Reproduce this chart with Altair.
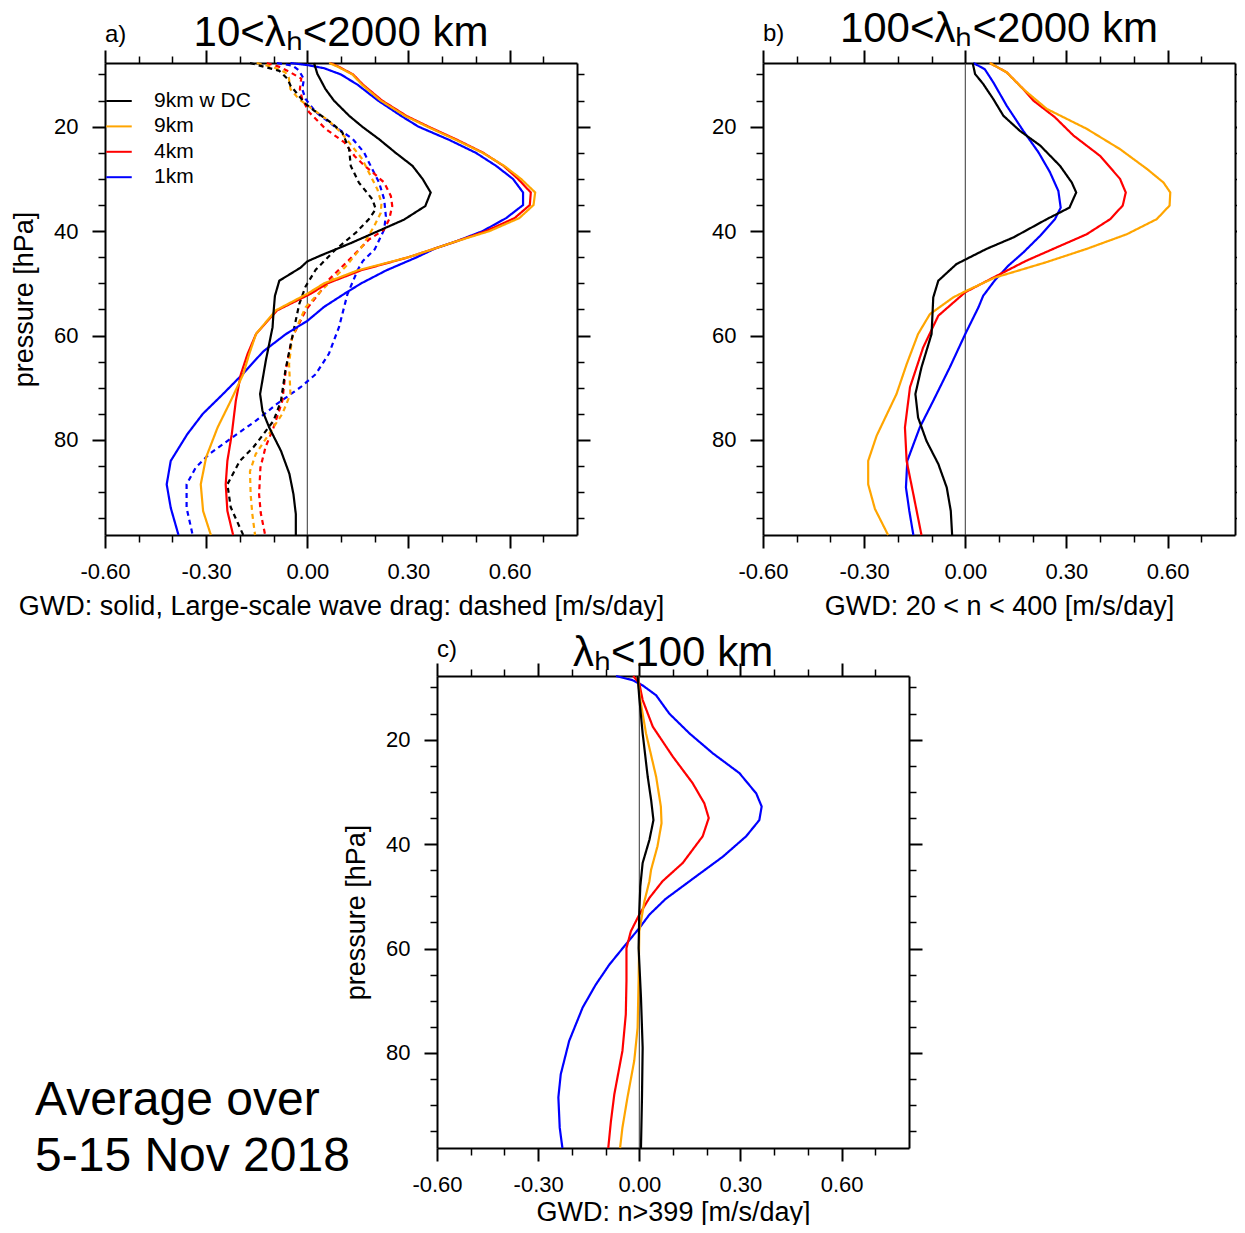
import altair as alt
import pandas as pd

FONT = "Liberation Sans"
NAMES = ["9km w DC", "9km", "4km", "1km"]
COLORS = ["#000000", "#FFA500", "#FF0000", "#0000FF"]

X_MAJOR = [-0.6, -0.3, 0.0, 0.3, 0.6]
X_MINOR = [-0.5, -0.4, -0.2, -0.1, 0.1, 0.2, 0.4, 0.5, 0.7]
Y_MAJOR = [20, 40, 60, 80]
Y_MINOR = [10, 15, 25, 30, 35, 45, 50, 55, 65, 70, 75, 85, 90, 95]
X_DOMAIN = [-0.6, 0.8]
Y_DOMAIN = [7.8, 98.2]
ZERO = [0.0]

# ---------------- panel a : GWD (solid) ----------------
a_dc_p = [7.8, 9.9, 12.8, 15.0, 17.9, 20.0, 22.4, 25.0, 27.5, 30.0, 32.6, 35.2, 37.8, 40.0, 42.3, 44.8, 45.8, 47.0, 49.5, 52.4, 55.5, 58.4, 64.8, 71.2, 74.4, 77.6, 82.1, 86.5, 90.4, 94.2, 98.2]
a_dc_v = [0.02, 0.03, 0.054, 0.079, 0.124, 0.163, 0.213, 0.262, 0.312, 0.342, 0.366, 0.35, 0.287, 0.21, 0.129, 0.035, 0.0, -0.02, -0.083, -0.096, -0.10, -0.103, -0.123, -0.14, -0.133, -0.113, -0.078, -0.053, -0.041, -0.034, -0.034]

a_9_p = [7.8, 8.5, 10, 12, 15, 18, 20, 22.5, 25, 27.5, 30, 32.6, 35, 37.5, 40, 42, 43.3, 45, 47.5, 50, 52, 55.2, 59.7, 63.5, 67.4, 72.5, 77.6, 83.3, 88.5, 93.6, 98.2]
a_9_v = [0.065, 0.09, 0.134, 0.163, 0.218, 0.292, 0.356, 0.44, 0.52, 0.584, 0.634, 0.676, 0.671, 0.629, 0.54, 0.44, 0.38, 0.30, 0.15, 0.05, 0.0, -0.094, -0.152, -0.172, -0.19, -0.227, -0.266, -0.30, -0.316, -0.309, -0.286]

a_4_p = [7.8, 8.5, 10, 12, 15, 18, 20, 22.5, 25, 27.5, 30, 32.6, 35, 37.5, 40, 42, 43.3, 45, 47.5, 50, 52, 55.2, 59.7, 63.5, 67.4, 72.5, 78.9, 84, 88.5, 93.6, 98.2]
a_4_v = [0.068, 0.093, 0.136, 0.166, 0.222, 0.296, 0.36, 0.444, 0.522, 0.582, 0.625, 0.663, 0.66, 0.615, 0.53, 0.44, 0.38, 0.30, 0.16, 0.06, 0.01, -0.09, -0.152, -0.177, -0.197, -0.212, -0.224, -0.237, -0.242, -0.237, -0.22]

a_1_p = [7.8, 8.2, 8.8, 10, 12, 15, 18, 20, 22.5, 25, 27.5, 30, 32.6, 35, 37.5, 40, 42, 43.3, 45, 47.5, 50, 52, 54.5, 57.2, 59.7, 63, 67.4, 71.2, 75, 78.9, 84, 88.5, 93, 98.2]
a_1_v = [-0.05, 0.0, 0.05, 0.10, 0.15, 0.21, 0.28, 0.33, 0.42, 0.50, 0.56, 0.61, 0.64, 0.64, 0.59, 0.52, 0.44, 0.38, 0.325, 0.235, 0.16, 0.11, 0.05, 0.0, -0.063, -0.13, -0.192, -0.25, -0.31, -0.356, -0.405, -0.417, -0.405, -0.382]

# ---------------- panel a : large-scale wave drag (dashed) ----------------
a_dc_ls_p = [7.8, 9.3, 10.9, 12.1, 14.0, 15.7, 16.9, 19.2, 21.1, 24.3, 27.5, 30.7, 33.9, 35.8, 37.7, 40.3, 43.5, 47.4, 50.6, 54.0, 60.4, 66.7, 72.5, 76.3, 78.9, 81.4, 84.0, 88.5, 92.9, 98.2]
a_dc_ls_v = [-0.17, -0.083, -0.058, -0.05, -0.026, -0.004, 0.02, 0.07, 0.104, 0.124, 0.129, 0.153, 0.193, 0.203, 0.183, 0.144, 0.084, 0.025, -0.005, -0.024, -0.045, -0.065, -0.078, -0.1, -0.13, -0.16, -0.2, -0.237, -0.227, -0.19]

a_9_ls_p = [7.8, 8.6, 9.6, 10.5, 12.8, 14.7, 16.6, 18.9, 21.1, 23.0, 26.2, 28.8, 32.0, 34.6, 36.5, 39.1, 42.9, 46.8, 50.6, 52.5, 54.6, 60.4, 65.5, 71.2, 75.0, 78.9, 82.7, 86.0, 90.4, 94.2, 98.2]
a_9_ls_v = [-0.15, -0.1, -0.065, -0.055, -0.05, -0.025, 0.015, 0.064, 0.1, 0.124, 0.163, 0.183, 0.208, 0.22, 0.218, 0.198, 0.163, 0.114, 0.054, 0.025, -0.005, -0.045, -0.054, -0.05, -0.074, -0.114, -0.153, -0.17, -0.168, -0.163, -0.155]

a_4_ls_p = [7.8, 8.6, 9.6, 10.8, 12.8, 14.7, 17.2, 20.4, 23.0, 25.6, 27.5, 28.8, 30.7, 33.3, 35.2, 37.7, 39.7, 41.6, 45.5, 49.3, 51.5, 55.2, 60.4, 66.7, 72.5, 77.6, 81.4, 85.3, 90.4, 94.0, 98.2]
a_4_ls_v = [-0.12, -0.08, -0.05, -0.018, -0.022, -0.015, 0.005, 0.054, 0.11, 0.14, 0.17, 0.195, 0.228, 0.248, 0.252, 0.243, 0.228, 0.183, 0.124, 0.064, 0.04, -0.005, -0.045, -0.064, -0.074, -0.1, -0.124, -0.139, -0.143, -0.138, -0.125]

a_1_ls_p = [7.8, 8.3, 9.2, 10.9, 12.8, 14.7, 17.2, 20.1, 22.3, 24.9, 27.5, 30.7, 33.9, 37.1, 39.7, 43.5, 45.7, 47.4, 52.1, 58.4, 63.5, 67.4, 69.9, 73.1, 76.3, 79.5, 82.7, 85.3, 88.5, 93.0, 98.2]
a_1_ls_v = [-0.09, -0.044, -0.025, -0.01, -0.015, -0.005, 0.025, 0.084, 0.134, 0.168, 0.188, 0.213, 0.228, 0.233, 0.228, 0.2, 0.165, 0.15, 0.119, 0.094, 0.064, 0.025, -0.02, -0.09, -0.152, -0.222, -0.291, -0.331, -0.358, -0.358, -0.34]

# ---------------- panel b : GWD 20 < n < 400 ----------------
b_dc_p = [7.8, 9.9, 11.8, 14.7, 17.9, 20.8, 23.6, 27.5, 30.7, 32.6, 35.5, 37.7, 41.2, 43.4, 46.3, 49.5, 52.7, 59.7, 66.1, 71.2, 75.7, 80.2, 84.6, 89.1, 93.6, 98.2]
b_dc_v = [0.022, 0.029, 0.053, 0.083, 0.113, 0.162, 0.222, 0.281, 0.316, 0.329, 0.309, 0.242, 0.143, 0.063, -0.026, -0.08, -0.095, -0.1, -0.13, -0.148, -0.14, -0.115, -0.08, -0.055, -0.043, -0.039]

b_9_p = [7.8, 9.6, 12.8, 16.6, 20.4, 24.3, 28.1, 30.7, 32.6, 35.1, 37.7, 40.6, 43.4, 46.0, 48.9, 51.4, 52.7, 55.9, 59.7, 65.5, 71.2, 79.2, 84.0, 88.5, 93.2, 98.2]
b_9_v = [0.073, 0.123, 0.172, 0.242, 0.36, 0.459, 0.539, 0.588, 0.608, 0.606, 0.568, 0.479, 0.36, 0.238, 0.088, 0.004, -0.036, -0.105, -0.14, -0.174, -0.204, -0.263, -0.288, -0.288, -0.268, -0.229]

b_4_p = [7.8, 9.6, 12.8, 15.0, 18.2, 21.7, 25.6, 30.0, 32.6, 35.1, 37.7, 40.6, 43.4, 45.7, 48.9, 51.7, 56.2, 62.3, 69.9, 77.6, 84.0, 90.4, 98.2]
b_4_v = [0.073, 0.123, 0.172, 0.202, 0.266, 0.321, 0.4, 0.459, 0.476, 0.467, 0.43, 0.36, 0.261, 0.18, 0.083, 0.0, -0.08, -0.125, -0.164, -0.179, -0.174, -0.154, -0.13]

b_1_p = [7.8, 9.0, 11.5, 16.0, 20.8, 24.9, 28.7, 32.3, 35.5, 37.7, 40.9, 44.1, 46.6, 49.4, 52.4, 54.6, 59.7, 66.1, 72.5, 77.6, 84.0, 89.1, 93.6, 98.2]
b_1_v = [0.024, 0.058, 0.083, 0.123, 0.172, 0.217, 0.251, 0.276, 0.283, 0.266, 0.222, 0.172, 0.128, 0.088, 0.053, 0.039, 0.0, -0.046, -0.095, -0.135, -0.172, -0.176, -0.166, -0.154]

# ---------------- panel c : GWD n > 399 ----------------
c_dc_p = [7.8, 12.0, 18.8, 27.1, 31.5, 35.4, 39.2, 43.6, 48.1, 53.0, 59.9, 69.4, 79.0, 88.5, 98.2]
c_dc_v = [-0.005, 0.0, 0.01, 0.025, 0.035, 0.042, 0.03, 0.01, 0.003, 0.0, -0.002, 0.005, 0.01, 0.008, 0.005]

c_9_p = [7.8, 12.0, 18.8, 27.1, 32.8, 36.0, 40.4, 44.9, 47.1, 51.0, 56.7, 66.2, 75.2, 81.5, 88.5, 94.3, 98.2]
c_9_v = [-0.005, 0.002, 0.02, 0.05, 0.064, 0.066, 0.054, 0.035, 0.03, 0.015, 0.0, -0.002, -0.005, -0.015, -0.035, -0.05, -0.057]

c_4_p = [7.8, 9.2, 12.4, 17.5, 23.2, 28.3, 32.2, 35.0, 38.5, 43.6, 47.1, 50.3, 53.5, 56.7, 59.9, 66.2, 72.6, 79.6, 87.9, 93.0, 98.2]
c_4_v = [-0.018, 0.0, 0.01, 0.04, 0.099, 0.158, 0.193, 0.206, 0.188, 0.129, 0.069, 0.03, 0.0, -0.025, -0.038, -0.038, -0.04, -0.05, -0.074, -0.084, -0.092]

c_1_p = [7.8, 8.6, 9.6, 11.5, 15.0, 18.8, 22.6, 26.4, 30.3, 32.8, 35.4, 38.5, 42.4, 46.2, 50.5, 53.5, 56.1, 59.2, 63.1, 66.9, 71.3, 77.7, 84.1, 88.5, 94.3, 98.2]
c_1_v = [-0.069, -0.02, 0.01, 0.05, 0.089, 0.149, 0.218, 0.297, 0.347, 0.363, 0.356, 0.317, 0.248, 0.168, 0.078, 0.03, 0.0, -0.04, -0.089, -0.129, -0.168, -0.208, -0.233, -0.24, -0.236, -0.228]

TITLE_A = "10<λₕ<2000 km"
TITLE_B = "100<λₕ<2000 km"
TITLE_C = "λₕ<100 km"
XTITLE_A = "GWD: solid, Large-scale wave drag: dashed [m/s/day]"
XTITLE_B = "GWD: 20 < n < 400 [m/s/day]"
XTITLE_C = "GWD: n>399 [m/s/day]"
YTITLE = "pressure [hPa]"
NOTE = "Average over\n5-15 Nov 2018"


def frame(series):
    rows = []
    for name, kind, ps, vs in series:
        for p, v in zip(ps, vs):
            rows.append({"name": name, "kind": kind, "p": p, "v": v})
    return pd.DataFrame(rows)


df_a = frame([
    ("1km", "dashed", a_1_ls_p, a_1_ls_v),
    ("4km", "dashed", a_4_ls_p, a_4_ls_v),
    ("9km", "dashed", a_9_ls_p, a_9_ls_v),
    ("9km w DC", "dashed", a_dc_ls_p, a_dc_ls_v),
    ("1km", "solid", a_1_p, a_1_v),
    ("4km", "solid", a_4_p, a_4_v),
    ("9km", "solid", a_9_p, a_9_v),
    ("9km w DC", "solid", a_dc_p, a_dc_v),
])
df_b = frame([
    ("1km", "solid", b_1_p, b_1_v),
    ("4km", "solid", b_4_p, b_4_v),
    ("9km", "solid", b_9_p, b_9_v),
    ("9km w DC", "solid", b_dc_p, b_dc_v),
])
df_c = frame([
    ("1km", "solid", c_1_p, c_1_v),
    ("4km", "solid", c_4_p, c_4_v),
    ("9km", "solid", c_9_p, c_9_v),
    ("9km w DC", "solid", c_dc_p, c_dc_v),
])

MINUS_FIX = "replace(datum.label, '\u2212', '-')"


def axis(orient, values, size, width, labels=False, title=None, domain=False, fmt=".2f", tpad=11):
    kw = dict(orient=orient, values=values, tickSize=size, tickWidth=width,
              tickColor="black", labels=labels, domain=domain, domainWidth=2,
              domainColor="black", grid=False, format=fmt, labelFont=FONT,
              labelFontSize=22, labelColor="black", labelFlush=False,
              labelOverlap=False, labelPadding=13 if orient in ("bottom", "top") else 14)
    if labels:
        kw["labelExpr"] = MINUS_FIX
    if title:
        kw.update(title=title, titleFont=FONT, titleFontSize=27, titleFontWeight="normal",
                  titleColor="black", titlePadding=tpad if orient == "bottom" else 15)
    else:
        kw["title"] = None
    return alt.Axis(**kw)


def panel(df, heading, head_y, letter, letter_y, xtitle, ytitle, legend, tpad=11):
    xs = alt.Scale(domain=X_DOMAIN, nice=False, zero=False)
    ys = alt.Scale(domain=Y_DOMAIN, reverse=True, nice=False, zero=False)
    base = alt.Chart(df)

    def ghost(xa, ya):
        return base.mark_point(opacity=0).encode(
            x=alt.X("v:Q", scale=xs, axis=xa),
            y=alt.Y("p:Q", scale=ys, axis=ya),
        )

    g1 = ghost(axis("bottom", X_MINOR, 7, 1.5), axis("left", Y_MINOR, 7, 1.5, fmt="d"))
    g2 = ghost(axis("top", X_MAJOR, 13, 2, domain=True), axis("right", Y_MAJOR, 13, 2, domain=True, fmt="d"))
    g3 = ghost(axis("top", X_MINOR, 7, 1.5), axis("right", Y_MINOR, 7, 1.5, fmt="d"))

    zero = alt.Chart(pd.DataFrame({"z": ZERO})).mark_rule(color="#333333", strokeWidth=1).encode(
        x=alt.X("z:Q", scale=xs, axis=None)
    )

    lines = base.mark_line(strokeWidth=2.2).encode(
        x=alt.X("v:Q", scale=xs,
                axis=axis("bottom", X_MAJOR, 13, 2, labels=True, title=xtitle, domain=True, tpad=tpad)),
        y=alt.Y("p:Q", scale=ys,
                axis=axis("left", Y_MAJOR, 13, 2, labels=True, title=ytitle, domain=True, fmt="d")),
        color=alt.Color("name:N", scale=alt.Scale(domain=NAMES, range=COLORS), legend=legend),
        strokeDash=alt.StrokeDash("kind:N", scale=alt.Scale(domain=["solid", "dashed"], range=[[1, 0], [5, 4]]), legend=None),
        order=alt.Order("p:Q"),
    )

    head = alt.Chart(pd.DataFrame({"t": [heading]})).mark_text(
        font=FONT, fontSize=42, align="center", baseline="alphabetic", color="black"
    ).encode(text="t:N", x=alt.value(236), y=alt.value(head_y))

    let = alt.Chart(pd.DataFrame({"t": [letter]})).mark_text(
        font=FONT, fontSize=24, align="left", baseline="alphabetic", color="black"
    ).encode(text="t:N", x=alt.value(0), y=alt.value(letter_y))

    return alt.layer(g1, g2, g3, zero, lines, head, let).resolve_axis(
        x="independent", y="independent"
    ).properties(width=472, height=472)


legend_a = alt.Legend(orient="none", legendX=0, legendY=24, title=None, direction="vertical",
                      symbolType="stroke", symbolSize=650, symbolStrokeWidth=2,
                      labelFont=FONT, labelFontSize=21, labelColor="black", labelOffset=21,
                      padding=0, rowPadding=1.4)

pa = panel(df_a, TITLE_A, -17, "a)", -21, XTITLE_A, YTITLE, legend_a)
pb = panel(df_b, TITLE_B, -21, "b)", -22, XTITLE_B, None, None)
pc = panel(df_c, TITLE_C, -10, "c)", -19, XTITLE_C, YTITLE, None, tpad=4)

note = alt.Chart(pd.DataFrame({"t": [NOTE]})).mark_text(
    font=FONT, fontSize=48, align="left", baseline="alphabetic", color="black",
    lineBreak="\n", lineHeight=56
).encode(text="t:N", x=alt.value(-70), y=alt.value(439)).properties(width=100, height=472)

chart = alt.vconcat(
    alt.hconcat(pa, pb, spacing=186, bounds="flush"),
    alt.hconcat(note, pc, spacing=232, bounds="flush"),
    spacing=613, bounds="flush",
).properties(
    padding={"left": 2, "top": 0, "right": -12, "bottom": 0}
).configure_view(strokeWidth=0)

chart.save("out.html", embed_options={"renderer": "svg", "actions": False})
